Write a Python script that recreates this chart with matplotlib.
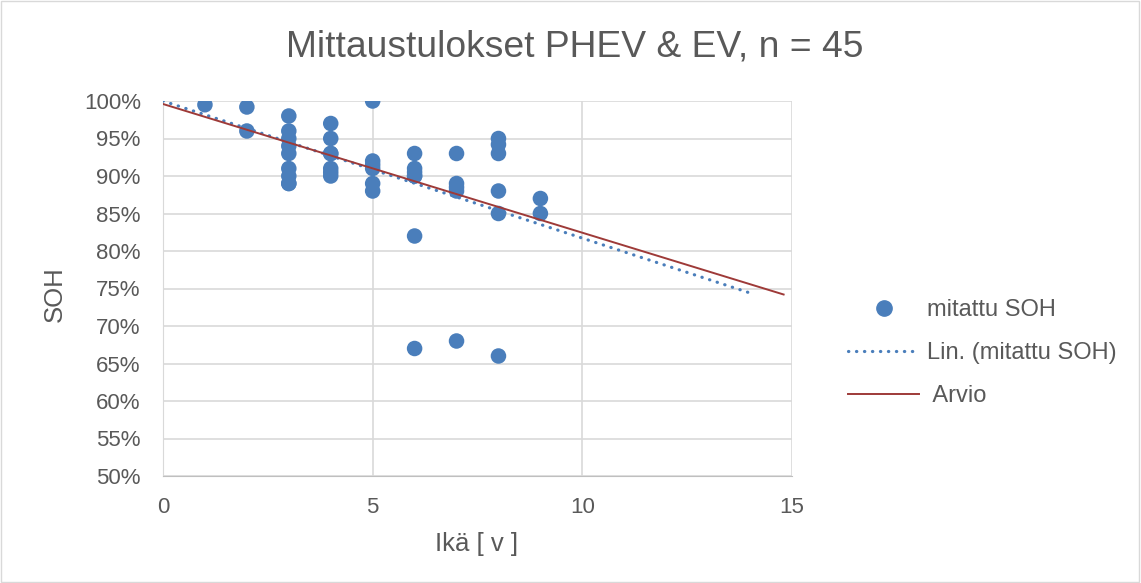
import numpy as np
import matplotlib.pyplot as plt
from matplotlib.lines import Line2D
from matplotlib.patches import Rectangle

plt.rcParams["font.family"] = ["Liberation Sans", "DejaVu Sans"]

# measured SOH (%) vs age (years)
age = [1,
       2, 2,
       3, 3, 3, 3, 3, 3, 3, 3, 3,
       4, 4, 4, 4, 4, 4, 4,
       5, 5, 5, 5, 5, 5,
       6, 6, 6, 6, 6, 6, 6,
       7, 7, 7, 7, 7,
       8, 8, 8, 8, 8, 8,
       9, 9]
soh = [99.5,
       99.2, 96,
       98, 96, 95, 94, 93, 91, 90, 89, 89,
       97, 95, 93, 93, 91, 90.5, 90,
       100, 92, 91.5, 91, 89, 88,
       93, 91, 90.5, 90, 90, 82, 67,
       93, 89, 88.5, 88, 68,
       95, 94.2, 93, 88, 85, 66,
       87, 85]

# Excel linear trendline (forecast to x=14)
trend_x = [0, 14]
trend_y = [100.0, 74.4]

# estimate line ("Arvio")
arvio_x = [0, 14.8]
arvio_y = [99.6, 74.2]

GRAY = "#595959"
BLUE = "#4a7ebb"
RED = "#9e3a38"
DOTS = (0, (0.1, 2.4))

fig = plt.figure(figsize=(11.41, 5.83), dpi=100)
fig.patches.append(Rectangle((0.001, 0.002), 0.997, 0.996, transform=fig.transFigure,
                             fill=False, edgecolor="#d9d9d9", linewidth=1))
ax = fig.add_axes([163 / 1141, 1 - 476 / 583, (792 - 163) / 1141, (476 - 101) / 583])

ax.scatter(age, soh, s=125, color=BLUE, edgecolor="none", zorder=3)
ax.plot(trend_x, trend_y, color=BLUE, linestyle=DOTS, linewidth=2.3,
        dash_capstyle="round", zorder=4)
ax.plot(arvio_x, arvio_y, color=RED, linewidth=1.4, zorder=5)

ax.set_xlim(0, 15)
ax.set_ylim(50, 100)
ax.set_xticks([0, 5, 10, 15])
ax.set_yticks(np.arange(50, 101, 5))
ax.set_yticklabels([f"{v}%" for v in range(50, 101, 5)])
ax.grid(True, color="#d9d9d9", linewidth=1.2)
ax.set_axisbelow(True)
for s in ["top", "right"]:
    ax.spines[s].set_visible(False)
ax.spines["left"].set_color("#d9d9d9")
ax.spines["bottom"].set_color("#bfbfbf")
ax.tick_params(axis="y", length=0, labelsize=16, colors=GRAY, pad=16)
ax.tick_params(axis="x", length=0, labelsize=16, colors=GRAY, pad=15)

ax.set_xlabel("Ikä [ v ]", fontsize=18.5, color=GRAY)
ax.set_ylabel("SOH", fontsize=18.5, color=GRAY)
ax.xaxis.set_label_coords(0.499, -0.148)
ax.yaxis.set_label_coords(-0.153, 0.485)
fig.text(0.504, 1 - 47 / 583, "Mittaustulokset PHEV & EV, n = 45", ha="center",
         va="center", fontsize=26.8, color=GRAY)

handles = [Line2D([], [], marker="o", linestyle="none", color=BLUE, markersize=11),
           Line2D([], [], color=BLUE, linestyle=DOTS, linewidth=2.3,
                  dash_capstyle="round"),
           Line2D([], [], color=RED, linewidth=1.4)]
leg = fig.legend(handles, ["mitattu SOH", "Lin. (mitattu SOH)", " Arvio"],
                 loc="center left", bbox_to_anchor=(827 / 1141, 1 - 353 / 583),
                 frameon=False, fontsize=17, labelspacing=0.88, handlelength=3.0,
                 handletextpad=0.35)
for t in leg.get_texts():
    t.set_color(GRAY)

fig.savefig("out.png", dpi=100)
